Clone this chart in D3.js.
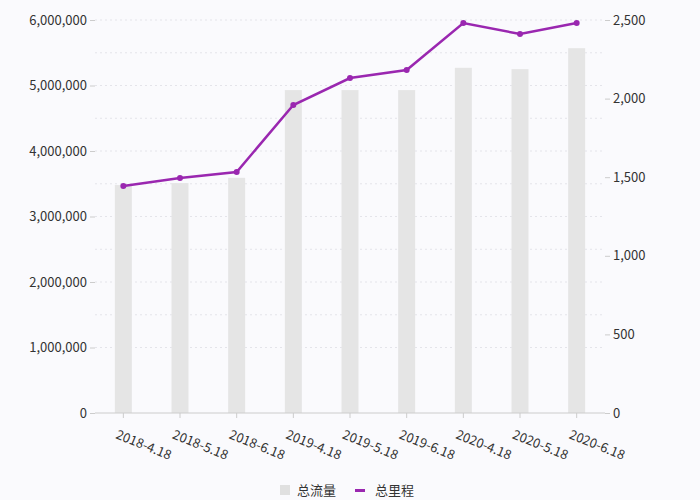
<!DOCTYPE html>
<html>
<head>
<meta charset="utf-8">
<script src="https://cdn.jsdelivr.net/npm/d3@7"></script>
<style>
  body { margin: 0; background: #fafafd; }
  text { font-family: "Noto Sans CJK SC", "Noto Sans", sans-serif; }
</style>
</head>
<body>
<div id="chart"></div>
<script>
// data
let dates = ["2018-4.18", "2018-5.18", "2018-6.18", "2019-4.18", "2019-5.18", "2019-6.18", "2020-4.18", "2020-5.18", "2020-6.18"]
let flow = [3480000, 3510000, 3590000, 4930000, 4930000, 4930000, 5270000, 5250000, 5570000]
let mileage = [1444, 1495, 1533, 1959, 2131, 2182, 2481, 2411, 2481]

let svgWidth = 700, svgHeight = 500
let margin = { top: 20, right: 95, bottom: 87, left: 95 }
let width = svgWidth - margin.left - margin.right
let height = svgHeight - margin.top - margin.bottom

let svg = d3.select("#chart").append("svg").attr("width", svgWidth).attr("height", svgHeight)
let g = svg.append("g").attr("transform", `translate(${margin.left},${margin.top})`)

let x = d3.scaleBand().domain(dates).range([0, width]).paddingInner(0.7).paddingOuter(0.35)
let yL = d3.scaleLinear().domain([0, 6000000]).range([height, 0])
let yR = d3.scaleLinear().domain([0, 2500]).range([height, 0])

// grid lines
g.selectAll(".grid").data(d3.range(1000000, 6000001, 500000)).join("line")
  .attr("x1", 0).attr("x2", width)
  .attr("y1", d => yL(d)).attr("y2", d => yL(d))
  .attr("stroke", "#e4e4ea").attr("stroke-dasharray", "2,3")

// bars
g.selectAll(".bar").data(flow).join("rect")
  .attr("x", (d, i) => x(dates[i]))
  .attr("width", x.bandwidth())
  .attr("y", d => yL(d))
  .attr("height", d => height - yL(d))
  .attr("fill", "#e5e5e5")

// axes
let fmt = d3.format(",")
let left = g.append("g").call(d3.axisLeft(yL).tickValues(d3.range(0, 6000001, 1000000)).tickFormat(fmt).tickSize(5))
let right = g.append("g").attr("transform", `translate(${width},0)`)
  .call(d3.axisRight(yR).tickValues(d3.range(0, 2501, 500)).tickFormat(fmt).tickSize(5))
let bottom = g.append("g").attr("transform", `translate(0,${height})`).call(d3.axisBottom(x).tickSize(5))
;[left, right, bottom].forEach(a => {
  a.select(".domain").remove()
  a.selectAll("line").attr("stroke", "#ccc")
  a.selectAll("text").attr("fill", "#333").style("font-size", "13px")
})
g.append("line").attr("x1", 0).attr("x2", width).attr("y1", height).attr("y2", height).attr("stroke", "#ccc")
bottom.selectAll("text")
  .attr("text-anchor", "start")
  .attr("transform", "translate(-2,9) rotate(22)")

// line
let line = d3.line().x((d, i) => x(dates[i]) + x.bandwidth() / 2).y(d => yR(d))
g.append("path").datum(mileage).attr("d", line)
  .attr("fill", "none").attr("stroke", "#9a27b0").attr("stroke-width", 2.5)
g.selectAll(".dot").data(mileage).join("circle")
  .attr("cx", (d, i) => x(dates[i]) + x.bandwidth() / 2)
  .attr("cy", d => yR(d)).attr("r", 3).attr("fill", "#9a27b0")

// legend
let lg = svg.append("g").attr("transform", "translate(280,491)")
lg.append("rect").attr("x", 0).attr("y", -6).attr("width", 10).attr("height", 10).attr("fill", "#e0e0e0")
lg.append("text").attr("x", 17).attr("y", 4).text("总流量").style("font-size", "13px").attr("fill", "#333")
lg.append("rect").attr("x", 75).attr("y", -2).attr("width", 10).attr("height", 3).attr("fill", "#9a27b0")
lg.append("text").attr("x", 95).attr("y", 4).text("总里程").style("font-size", "13px").attr("fill", "#333")
</script>
</body>
</html>
